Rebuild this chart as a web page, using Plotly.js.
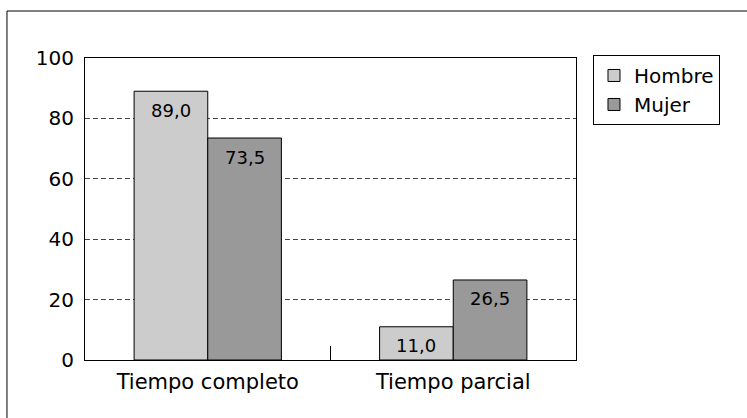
<!DOCTYPE html>
<html>
<head>
<meta charset="utf-8">
<script src="https://cdn.plot.ly/plotly-3.0.1.min.js"></script>
<style>html,body{margin:0;padding:0;background:#fff;}#chart{width:747px;height:418px;}</style>
</head>
<body>
<div id="chart"></div>
<script>
const categories = ["Tiempo completo", "Tiempo parcial"];
const hombre = [89.0, 11.0];
const mujer = [73.5, 26.5];
const seriesNames = ["Hombre", "Mujer"];
const yTicks = [0, 20, 40, 60, 80, 100];

const FONT = "DejaVu Sans, Verdana, sans-serif";

function barTrace(name, vals, color) {
  return {
    type: "bar",
    name: name,
    x: categories,
    y: vals,
    marker: {color: color, line: {color: "#000", width: 1}},
    hoverinfo: "none"
  };
}

const data = [
  barTrace(seriesNames[0], hombre, "#cccccc"),
  barTrace(seriesNames[1], mujer, "#999999")
];

// value labels placed inside the top of each bar, via the axis scales
const annotations = [];
[hombre, mujer].forEach(function (vals, s) {
  const off = s === 0 ? -0.15 : 0.15;
  vals.forEach(function (v, i) {
    annotations.push({
      xref: "x", yref: "y", x: i + off, y: v, yshift: -19,
      text: v.toFixed(1).replace(".", ","), showarrow: false,
      xanchor: "center", yanchor: "middle",
      font: {family: FONT, size: 18, color: "#000"}
    });
  });
});

const layout = {
  width: 747, height: 418,
  margin: {l: 85, r: 171, t: 58, b: 58, pad: 0},
  paper_bgcolor: "#fff", plot_bgcolor: "#fff",
  separators: ",.",
  barmode: "group", bargap: 0.4, bargroupgap: 0,
  font: {family: FONT, size: 20, color: "#000"},
  showlegend: true,
  legend: {
    x: 1.0346, y: 1.01, xanchor: "left", yanchor: "top",
    bordercolor: "#000", borderwidth: 1, bgcolor: "#fff",
    font: {family: FONT, size: 20, color: "#000"},
    tracegroupgap: 0
  },
  xaxis: {
    type: "category", range: [-0.5, 1.5],
    showline: true, linecolor: "#000", linewidth: 1, mirror: true,
    showgrid: false, zeroline: false,
    ticks: "inside", tickson: "boundaries", ticklen: 14, tickcolor: "#000", tickwidth: 1,
    ticklabelstandoff: 3,
    tickfont: {family: FONT, size: 21, color: "#000"}
  },
  yaxis: {
    range: [0, 100], tickvals: yTicks, ticktext: yTicks.map(String),
    showline: true, linecolor: "#000", linewidth: 1, mirror: true,
    showgrid: true, gridcolor: "#444", griddash: "5px,3px", gridwidth: 1,
    zeroline: false, ticks: "", ticklabelstandoff: 6,
    tickfont: {family: FONT, size: 20, color: "#000"}
  },
  annotations: annotations,
  shapes: [
    {type: "line", xref: "paper", yref: "paper", x0: -0.1589, x1: -0.1589, y0: 1.1556, y1: -0.25, line: {color: "#000", width: 1}},
    {type: "line", xref: "paper", yref: "paper", x0: -0.1589, x1: 1.36, y0: 1.1556, y1: 1.1556, line: {color: "#000", width: 1}}
  ]
};

Plotly.newPlot("chart", data, layout, {displayModeBar: false, staticPlot: true});
</script>
</body>
</html>
